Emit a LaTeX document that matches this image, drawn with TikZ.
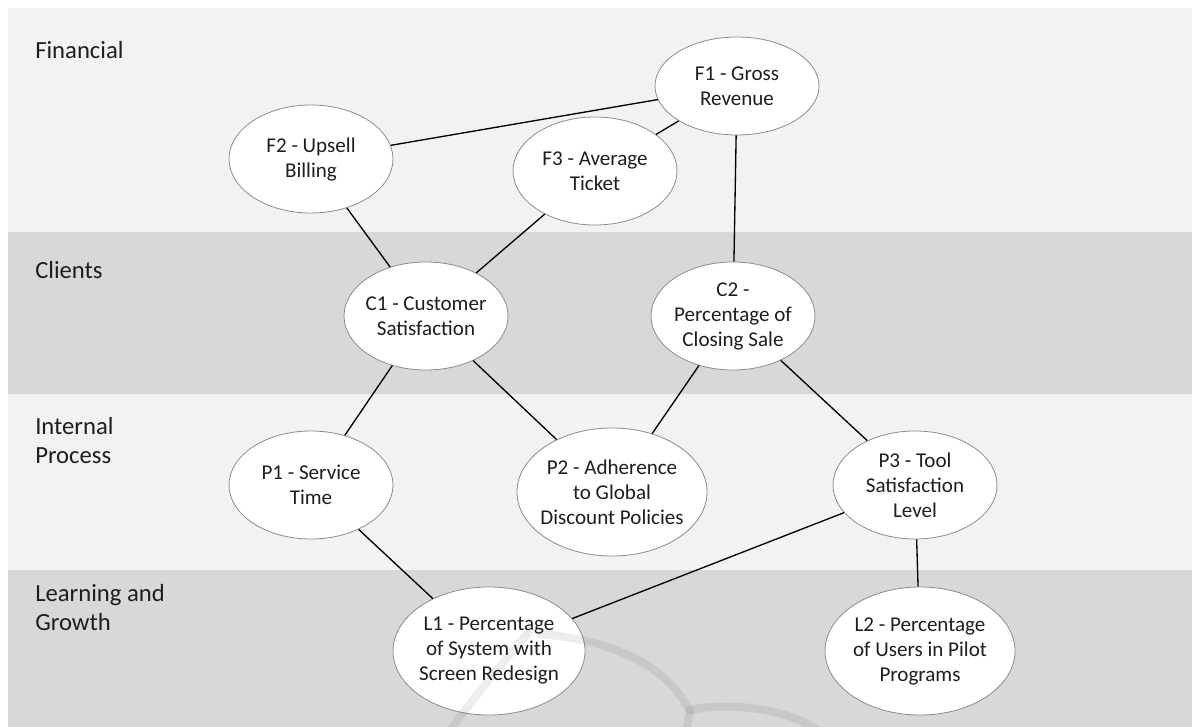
\documentclass[tikz,border=0pt]{standalone}
\usepackage{fontspec}
\setmainfont{Carlito}
\usetikzlibrary{shapes.geometric}
\definecolor{bandlight}{HTML}{F2F2F2}
\definecolor{banddark}{HTML}{D8D8D8}
\definecolor{rimgray}{HTML}{8C8C8C}
\definecolor{inkgray}{HTML}{1E1E1E}
\tikzset{
  band/.style={fill=#1, draw=none},
  bandlabel/.style={anchor=north west, inner sep=0pt, align=left, text=inkgray,
    font=\fontsize{18.5}{21.5}\selectfont},
  goal/.style={ellipse, draw=rimgray, line width=0.6pt, fill=white,
    inner xsep=-14pt, inner ysep=-8pt,
    align=center, text=inkgray, font=\fontsize{15.8}{18.75}\selectfont},
  link/.style={draw=black, line width=1pt},
  wmark/.style={draw=black, opacity=0.07, line width=6pt, line cap=round}
}
\begin{document}
\begin{tikzpicture}[x=0.75pt, y=-0.75pt]
  \useasboundingbox (0,0) rectangle (1192,727);
  % perspective bands
  \fill[band=bandlight] (8,8)   rectangle (1192,232);
  \fill[band=banddark]  (8,232) rectangle (1192,394);
  \fill[band=bandlight] (8,394) rectangle (1192,570);
  \fill[band=banddark]  (8,570) rectangle (1192,727);

  \node[bandlabel] (lf) at (35,41)  {Financial};
  \node[bandlabel] (lc) at (35,261) {Clients};
  \node[bandlabel] (li) at (35,417) {Internal\\Process};
  \node[bandlabel] (ll) at (35,584) {Learning and\\Growth};

  % objectives
  \node[goal, minimum width=164pt*0.75, minimum height=98pt*0.75]  (F1) at (737,86)  {F1 - Gross\\Revenue};
  \node[goal, minimum width=164pt*0.75, minimum height=108pt*0.75] (F2) at (311,159) {F2 - Upsell\\Billing};
  \node[goal, minimum width=164pt*0.75, minimum height=108pt*0.75] (F3) at (595,171) {F3 - Average\\Ticket};
  \node[goal, minimum width=164pt*0.75, minimum height=108pt*0.75] (C1) at (426,316) {C1 - Customer\\Satisfaction};
  \node[goal, minimum width=164pt*0.75, minimum height=108pt*0.75] (C2) at (733,316) {C2 -\\Percentage of\\Closing Sale};
  \node[goal, minimum width=164pt*0.75, minimum height=108pt*0.75] (P1) at (311,485) {P1 - Service\\Time};
  \node[goal, minimum width=190pt*0.75, minimum height=128pt*0.75] (P2) at (612,492) {P2 - Adherence\\to Global\\Discount Policies};
  \node[goal, minimum width=164pt*0.75, minimum height=108pt*0.75] (P3) at (915,485) {P3 - Tool\\Satisfaction\\Level};
  \node[goal, minimum width=192pt*0.75, minimum height=128pt*0.75] (L1) at (489,651) {L1 - Percentage\\of System with\\Screen Redesign};
  \node[goal, minimum width=190pt*0.75, minimum height=128pt*0.75] (L2) at (920,651) {L2 - Percentage\\of Users in Pilot\\Programs};

  % cause-effect links
  \draw[link] (F1) -- (F2);
  \draw[link] (F1) -- (F3);
  \draw[link] (F1) -- (C2);
  \draw[link] (F2) -- (C1);
  \draw[link] (F3) -- (C1);
  \draw[link] (C1) -- (P1);
  \draw[link] (C1) -- (P2);
  \draw[link] (C2) -- (P2);
  \draw[link] (C2) -- (P3);
  \draw[link] (P1) -- (L1);
  \draw[link] (P3) -- (L1);
  \draw[link] (P3) -- (L2);

  % faint background emblem strokes
  \draw[wmark] (450,730) .. controls (480,690) and (505,660) .. (528,633);
  \draw[wmark] (540,634) .. controls (615,640) and (670,668) .. (690,712) -- (686,730);
  \draw[wmark] (690,710) .. controls (730,702) and (785,708) .. (818,730);
\end{tikzpicture}
\end{document}
